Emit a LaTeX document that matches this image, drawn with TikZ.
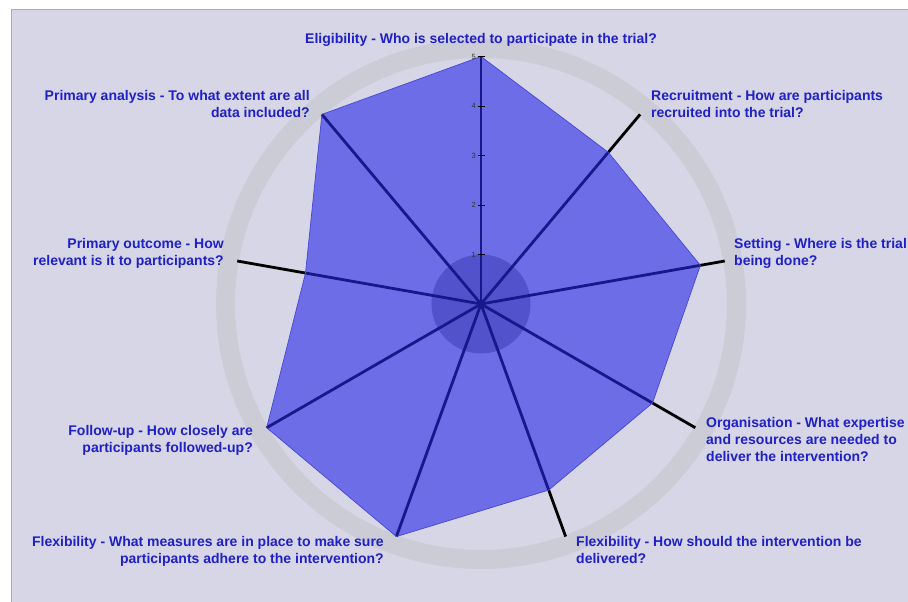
\documentclass[tikz,border=0pt]{standalone}
\usepackage{fontspec}
\setmainfont{Liberation Sans}
\usetikzlibrary{calc}
\definecolor{bg}{RGB}{214,214,230}
\definecolor{ringc}{RGB}{204,204,214}
\definecolor{discc}{RGB}{145,145,165}
\definecolor{polyc}{RGB}{40,40,232}
\definecolor{polyedge}{RGB}{70,70,215}
\definecolor{labc}{RGB}{32,32,200}
\definecolor{frame}{RGB}{170,170,185}
\begin{document}
\begin{tikzpicture}[x=1pt,y=1pt,
  lab/.style={font=\bfseries\fontsize{14}{17}\selectfont, text=labc, inner sep=0pt},
  axisline/.style={line width=2.8pt, black},
  ticklab/.style={font=\fontsize{7.5}{8}\selectfont, text=black!80, inner sep=0pt, anchor=east}]
\useasboundingbox (0,0) rectangle (908,602);
\fill[white] (0,0) rectangle (908,602);
\fill[bg] (11,0) rectangle (908,593);
\draw[frame, line width=0.8pt] (11,0) -- (11,593) -- (908,593);
\coordinate (C) at (481,298);
\def\u{49.5}
% ring
\draw[ringc, line width=19pt] (C) circle[radius=255.5];
% inner disc
\fill[discc] (C) circle[radius=49.5];
% axis ends
\foreach \nm/\ang in {a1/90,a2/50,a3/10,a4/-30,a5/-70,a6/-110,a7/-150,a8/170,a9/130}{
  \coordinate (\nm) at ($(C)+(\ang:247.5)$);
}
\foreach \nm in {a1,a2,a3,a4,a5,a6,a7,a8,a9}{
  \draw[axisline] (C) -- (\nm);
}
% polygon values
\foreach \nm/\ang/\v in {p1/90/5,p2/50/4,p3/10/4.5,p4/-30/4,p5/-70/4,p6/-110/5,p7/-150/5,p8/170/3.6,p9/130/5}{
  \coordinate (\nm) at ($(C)+(\ang:\v*\u)$);
}
\fill[polyc, fill opacity=0.6] (p1)--(p2)--(p3)--(p4)--(p5)--(p6)--(p7)--(p8)--(p9)--cycle;
\draw[polyedge, line width=0.7pt] (p1)--(p2)--(p3)--(p4)--(p5)--(p6)--(p7)--(p8)--(p9)--cycle;
% ticks
\foreach \k in {1,...,5}{
  \draw[black, line width=0.9pt] ($(C)+(-3.5,\k*\u)$) -- ($(C)+(3.5,\k*\u)$);
  \node[ticklab] (t\k) at ($(C)+(-5,\k*\u)$) {\k};
}
% labels
\node[lab, anchor=north] (l1) at (481,569) {Eligibility - Who is selected to participate in the trial?};
\node[lab, anchor=north west, align=left] (l2) at (651,512) {Recruitment - How are participants\\recruited into the trial?};
\node[lab, anchor=north west, align=left] (l3) at (734,364) {Setting - Where is the trial\\being done?};
\node[lab, anchor=north west, align=left] (l4) at (706,185) {Organisation - What expertise\\and resources are needed to\\deliver the intervention?};
\node[lab, anchor=north west, align=left] (l5) at (576,66) {Flexibility - How should the intervention be\\delivered?};
\node[lab, anchor=north east, align=right] (l6) at (384,66) {Flexibility - What measures are in place to make sure\\participants adhere to the intervention?};
\node[lab, anchor=north east, align=right] (l7) at (253,177) {Follow-up - How closely are\\participants followed-up?};
\node[lab, anchor=north east, align=right] (l8) at (224,364) {Primary outcome - How\\relevant is it to participants?};
\node[lab, anchor=north east, align=right] (l9) at (310,512) {Primary analysis - To what extent are all\\data included?};
\end{tikzpicture}
\end{document}
